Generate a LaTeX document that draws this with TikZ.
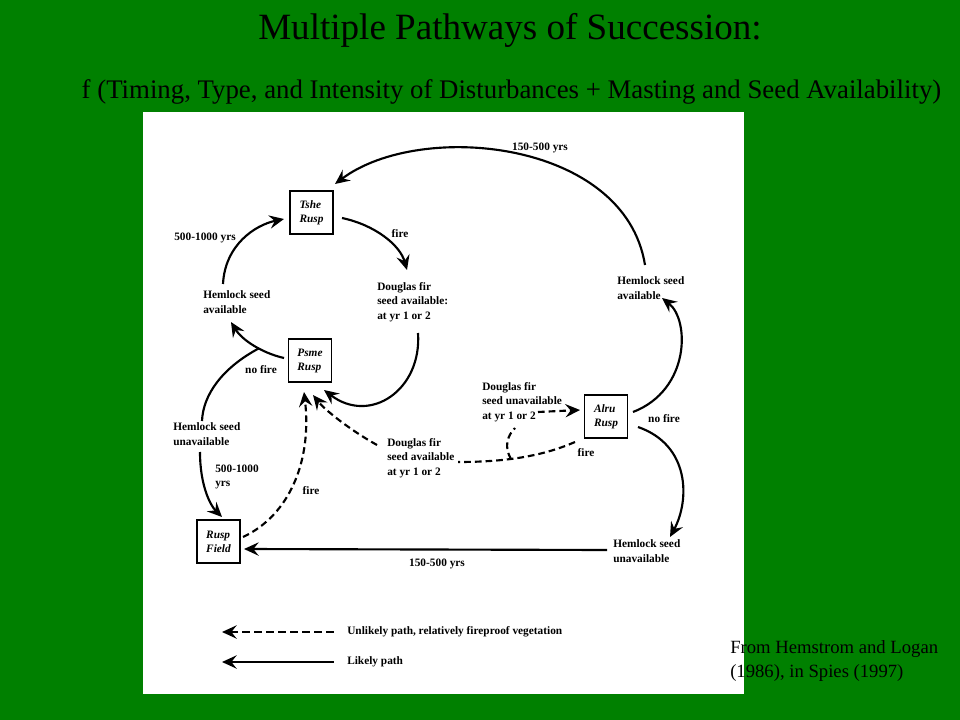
\documentclass[tikz,border=0pt]{standalone}
\usepackage{fontspec}
\setmainfont{Liberation Serif}
\usetikzlibrary{arrows.meta}
\definecolor{bggreen}{RGB}{0,128,0}
\begin{document}
\begin{tikzpicture}[x=0.75pt,y=-0.75pt,
  box/.style={draw,line width=1.1pt,minimum width=32.5pt,minimum height=32.5pt,inner sep=0pt,align=left,font=\fontsize{8.5}{10.5}\selectfont\bfseries\itshape},
  lbl/.style={inner sep=0pt,align=left,font=\fontsize{8.5}{11}\selectfont\bfseries},
  arr/.style={line width=1.6pt,-{Stealth[length=11pt,width=10pt,inset=4pt]}},
  ln/.style={line width=1.6pt},
  dsh/.style={dash pattern=on 5pt off 3pt}]
\useasboundingbox (0,0) rectangle (960,720);
\fill[bggreen] (0,0) rectangle (960,720);
\fill[white] (143,112) rectangle (744,694);
% titles
\node[font=\fontsize{27.8}{30}\selectfont] (title) at (510,30) {Multiple Pathways of Succession:};
\node[font=\fontsize{20.1}{22}\selectfont] (sub) at (511.5,92) {f (Timing, Type, and Intensity of Disturbances + Masting and Seed Availability)};
\node[anchor=west,align=left,inner sep=0pt,font=\fontsize{14}{18}\selectfont] (credit) at (730,661) {From Hemstrom and Logan\\(1986), in Spies (1997)};
% boxes
\node[box] (tshe) at (311.5,212.5) {Tshe\\Rusp};
\node[box] (psme) at (310,360.5) {Psme\\Rusp};
\node[box] (alru) at (606,416.5) {Alru\\Rusp};
\node[box] (field) at (218.5,541.5) {Rusp\\Field};
% labels
\node[lbl,anchor=west] (hsa1) at (203,302) {Hemlock seed\\available};
\node[lbl,anchor=west] (dfa1) at (377,302) {Douglas fir\\seed available:\\at yr 1 or 2};
\node[lbl,anchor=west] (hsa2) at (617,288) {Hemlock seed\\available};
\node[lbl,anchor=west] (hsu1) at (173,434) {Hemlock seed\\unavailable};
\node[lbl,anchor=west] (dfa2) at (387,458) {Douglas fir\\seed available\\at yr 1 or 2};
\node[lbl,anchor=west] (dfu) at (482,402) {Douglas fir\\seed unavailable\\at yr 1 or 2};
\node[lbl,anchor=west] (hsu2) at (613,551) {Hemlock seed\\unavailable};
\node[lbl] (l1) at (205,238) {500-1000 yrs};
\node[lbl] (l2) at (400,234) {fire};
\node[lbl] (l3) at (540,148) {150-500 yrs};
\node[lbl] (l4) at (261,370) {no fire};
\node[lbl,anchor=west] (l5) at (215,477) {500-1000\\yrs};
\node[lbl] (l6) at (311,491) {fire};
\node[lbl] (l7) at (586,453) {fire};
\node[lbl] (l8) at (664,419) {no fire};
\node[lbl] (l9) at (437,564) {150-500 yrs};
% connectors
\draw[arr] ([shift={(28,-23)}]hsa2.west) .. controls (625,140) and (420,120) .. ([shift={(23.5,-28.5)}]tshe.center);
\draw[arr] ([shift={(30.5,5.5)}]tshe.center) .. controls (375,225) and (400,245) .. ([shift={(30,-32)}]dfa1.west);
\draw[arr] ([shift={(41,31)}]dfa1.west) .. controls (422,390) and (370,425) .. ([shift={(14,29.5)}]psme.center);
\draw[arr] ([shift={(-26,-2.5)}]psme.center) .. controls (262,353) and (242,340) .. ([shift={(28,20)}]hsa1.west);
\coordinate (split) at (259,348.3);
\draw[ln] (split) .. controls (222,368) and (203,395) .. ([shift={(29,-13)}]hsu1.west);
\draw[arr] ([shift={(20,-18)}]hsa1.west) .. controls (225,245) and (255,225) .. ([shift={(-27.5,6.5)}]tshe.center);
\draw[arr] ([shift={(27,18)}]hsu1.west) .. controls (200,485) and (210,505) .. ([shift={(3.5,-24.5)}]field.center);
\draw[arr,dsh] ([shift={(24.5,-4.5)}]field.center) .. controls (290,515) and (312,460) .. ([shift={(-6,31.5)}]psme.center);
\draw[arr,dsh] ([shift={(-10,-13)}]dfa2.west) .. controls (350,430) and (325,410) .. ([shift={(3,34.5)}]psme.center);
\draw[ln,dsh] ([shift={(-31,25.5)}]alru.center) .. controls (545,455) and (510,462) .. ([shift={(71,4)}]dfa2.west);
\coordinate (split2) at (511,459);
\draw[ln,dsh] (split2) .. controls (504,447) and (507,436) .. ([shift={(33,26)}]dfu.west);
\draw[arr,dsh] ([shift={(56,10)}]dfu.west) -- ([shift={(-26,-6.5)}]alru.center);
\draw[arr] ([shift={(27,-4.5)}]alru.center) .. controls (690,390) and (690,320) .. ([shift={(45,10)}]hsa2.west);
\draw[arr] ([shift={(32,10.5)}]alru.center) .. controls (690,445) and (690,500) .. ([shift={(57,-14)}]hsu2.west);
\draw[arr] ([shift={(-6,-1)}]hsu2.west) -- ([shift={(25.5,7.5)}]field.center);
% legend
\node[lbl,anchor=west] (leg1) at (347,632) {Unlikely path, relatively fireproof vegetation};
\node[lbl,anchor=west] (leg2) at (347,662) {Likely path};
\coordinate (leg1e) at (222,632);
\coordinate (leg2e) at (222,662);
\draw[arr,dash pattern=on 6pt off 3pt] ([xshift=-10]leg1.west) -- (leg1e);
\draw[arr] ([xshift=-10]leg2.west) -- (leg2e);
\end{tikzpicture}
\end{document}
